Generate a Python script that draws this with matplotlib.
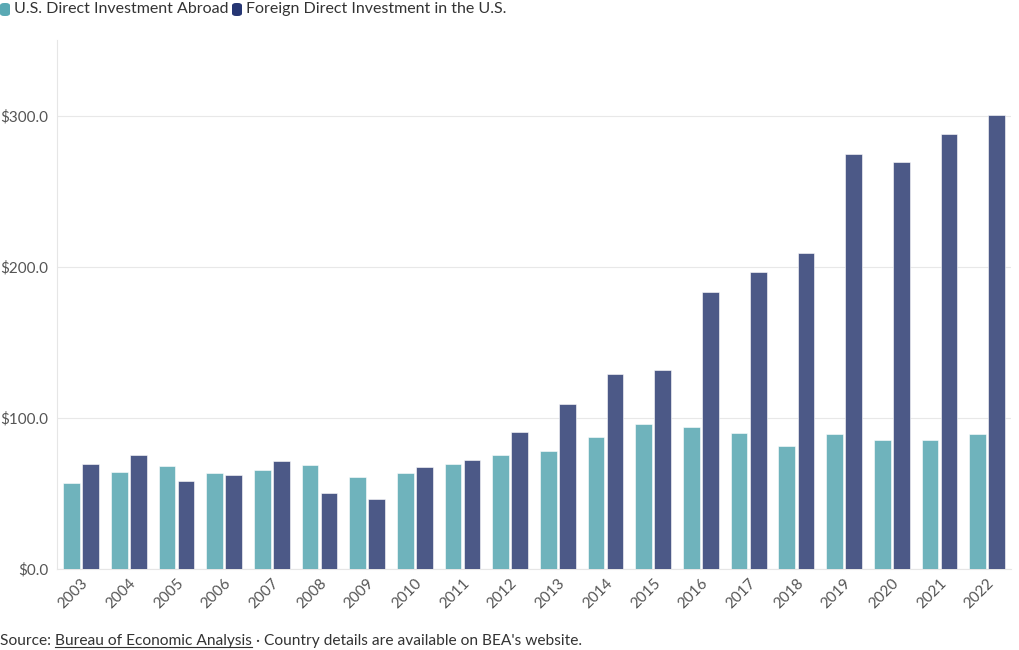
import matplotlib
matplotlib.use("Agg")
import matplotlib.pyplot as plt
import numpy as np
from matplotlib.patches import FancyBboxPatch
from matplotlib.lines import Line2D

years = [str(y) for y in range(2003, 2023)]
us_abroad = [56.8, 64.1, 68.1, 63.4, 65.4, 68.7, 60.8, 63.4, 69.4, 75.3,
             78.0, 87.2, 95.8, 93.9, 89.9, 81.3, 89.2, 85.3, 85.3, 89.2]
foreign_us = [69.4, 75.3, 58.2, 62.1, 71.4, 50.2, 46.3, 67.4, 72.0, 90.5,
              109.0, 128.9, 131.5, 183.7, 196.3, 209.5, 275.0, 269.7, 288.2, 300.7]
series_names = ["U.S. Direct Investment Abroad", "Foreign Direct Investment in the U.S."]
yticks = [0, 100, 200, 300]

plt.rcParams['font.family'] = ['Lato', 'DejaVu Sans']

c_light = "#6fb3bc"
c_dark = "#4c5987"
leg_light = "#5aa9b4"
leg_dark = "#263673"

fig = plt.figure(figsize=(10.2, 6.5), dpi=100)
ax = fig.add_axes([0.0559, 0.1246, 0.991 - 0.0559, 0.938 - 0.1246])

x = np.arange(len(years))
w = 0.35
ax.bar(x - 0.197, us_abroad, width=w, color=c_light, edgecolor="white", linewidth=0.4, zorder=3)
ax.bar(x + 0.203, foreign_us, width=w, color=c_dark, edgecolor="white", linewidth=0.4, zorder=3)

ax.set_xlim(-0.5, len(years) - 0.5)
ax.set_ylim(0, 350)
ax.set_yticks(yticks)
ax.set_yticklabels([f"${v:.1f}" for v in yticks], fontsize=11, color="#555555")
ax.set_xticks(x)
ax.set_xticklabels(years, rotation=45, ha="right", rotation_mode="anchor",
                   fontsize=11, color="#555555")
ax.tick_params(axis="y", length=0, pad=6)
ax.tick_params(axis="x", length=0, pad=5)
ax.grid(axis="y", color="#e8e8e8", linewidth=0.8, zorder=0)
for s in ["top", "right"]:
    ax.spines[s].set_visible(False)
ax.spines["left"].set_color("#e6e6e6")
ax.spines["bottom"].set_color("#e6e6e6")
ax.spines["left"].set_linewidth(0.8)
ax.spines["bottom"].set_linewidth(0.8)

# Legend
def leg_patch(xp, col):
    p = FancyBboxPatch((xp / 1020, 1 - 16 / 650), 10 / 1020, 13 / 650,
                       boxstyle="round,pad=0,rounding_size=0.004",
                       transform=fig.transFigure, facecolor=col, edgecolor="none")
    fig.add_artist(p)

leg_patch(0, leg_light)
fig.text(14 / 1020, 1 - 9 / 650, series_names[0], fontsize=11.5, color="#333333", va="center")
leg_patch(232, leg_dark)
fig.text(246 / 1020, 1 - 9 / 650, series_names[1], fontsize=11.5, color="#333333", va="center")

# Source
fig.canvas.draw()
r = fig.canvas.get_renderer()
y_src = 1 - 641 / 650
fs = 11.2
t1 = fig.text(0.0, y_src, "Source: ", fontsize=fs, color="#333333", va="center")
bb1 = t1.get_window_extent(r)
t2 = fig.text(bb1.x1 / 1020, y_src, "Bureau of Economic Analysis", fontsize=fs, color="#333333", va="center")
bb2 = t2.get_window_extent(r)
fig.add_artist(Line2D([bb2.x0 / 1020, bb2.x1 / 1020], [(bb2.y0 + 1) / 650] * 2,
                      transform=fig.transFigure, color="#333333", linewidth=0.8))
fig.text(bb2.x1 / 1020, y_src, " \u00b7 Country details are available on BEA's website.",
         fontsize=fs, color="#333333", va="center")

fig.savefig("out.png", dpi=100)
